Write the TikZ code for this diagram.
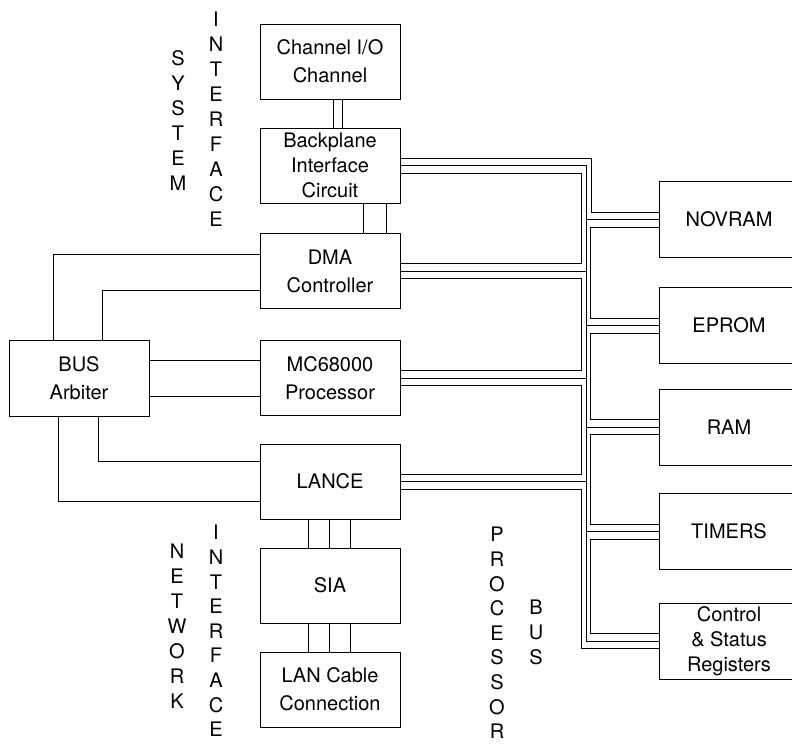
\documentclass[tikz,border=0pt]{standalone}
\usepackage{fontspec}
\setmainfont{TeX Gyre Heros}

\begin{document}
\begin{tikzpicture}[x=1bp, y=-1bp, line width=0.9bp,
    blk/.style={draw, minimum width=140bp, minimum height=75bp, inner sep=0pt, align=center, font=\fontsize{20bp}{28bp}\selectfont},
    tri/.style={font=\fontsize{20bp}{25bp}\selectfont},
    vtxt/.style={inner sep=0pt, align=center, font=\fontsize{20bp}{25bp}\selectfont}]
        \useasboundingbox (0,0) rectangle (792,744);
        \clip (0,0) rectangle (792,744);

        % system side
        \node[blk] (chan) at (330,61.5) {Channel I/O\\Channel};
        \node[blk, tri] (bpi) at (330,165.5) {Backplane\\Interface\\Circuit};
        \node[blk] (dma) at (330,271) {DMA\\Controller};
        \node[blk] (mpu) at (330,378) {MC68000\\Processor};
        \node[blk] (lance) at (330,481.5) {LANCE};
        \node[blk] (sia) at (330,585.5) {SIA};
        \node[blk] (lan) at (330,689.5) {LAN Cable\\Connection};
        \node[blk, minimum height=76bp] (arb) at (79,378) {BUS\\Arbiter};

        % memory side
        \node[blk, minimum height=76bp] (nov) at (729,219.5) {NOVRAM};
        \node[blk, minimum height=76bp] (eprom) at (729,325.5) {EPROM};
        \node[blk, minimum height=76bp] (ram) at (729,427) {RAM};
        \node[blk, minimum height=76bp] (tim) at (729,531.5) {TIMERS};
        \node[blk, tri, minimum height=76bp] (csr) at (729,641) {Control\\\& Status\\Registers};

        % labels
        \node[vtxt] (sys) at (178,121) {S\\Y\\S\\T\\E\\M};
        \node[vtxt] (sysif) at (216,119) {I\\N\\T\\E\\R\\F\\A\\C\\E};
        \node[vtxt] (net) at (177,626) {N\\E\\T\\W\\O\\R\\K};
        \node[vtxt, font=\fontsize{20bp}{24.6bp}\selectfont] (netif) at (216,631) {I\\N\\T\\E\\R\\F\\A\\C\\E};
        \node[vtxt, font=\fontsize{20bp}{24.6bp}\selectfont] (proc) at (497,633) {P\\R\\O\\C\\E\\S\\S\\O\\R};
        \node[vtxt] (bus) at (536,632) {B\\U\\S};

        % stacked links
        \draw ([xshift=3bp]chan.south) -- ([xshift=3bp]bpi.north);
        \draw ([xshift=12bp]chan.south) -- ([xshift=12bp]bpi.north);
        \draw ([xshift=33bp]bpi.south) -- ([xshift=33bp]dma.north);
        \draw ([xshift=56bp]bpi.south) -- ([xshift=56bp]dma.north);
        \draw ([xshift=-22bp]lance.south) -- ([xshift=-22bp]sia.north);
        \draw ([xshift=-1bp]lance.south) -- ([xshift=-1bp]sia.north);
        \draw ([xshift=20bp]lance.south) -- ([xshift=20bp]sia.north);
        \draw ([xshift=-22bp]sia.south) -- ([xshift=-22bp]lan.north);
        \draw ([xshift=-1bp]sia.south) -- ([xshift=-1bp]lan.north);
        \draw ([xshift=20bp]sia.south) -- ([xshift=20bp]lan.north);

        % arbiter lines
        \draw ([xshift=-26bp]arb.north) |- ([yshift=17bp]dma.west);
        \draw ([xshift=23bp]arb.north) |- ([yshift=-19bp]dma.west);
        \draw ([yshift=18bp]arb.east) -- ([yshift=18bp]mpu.west);
        \draw ([yshift=-18bp]arb.east) -- ([yshift=-18bp]mpu.west);
        \draw ([xshift=19bp]arb.south) |- ([yshift=20.5bp]lance.west);
        \draw ([xshift=-21bp]arb.south) |- ([yshift=-19.5bp]lance.west);

        % processor bus, left line
        \draw ([yshift=-7.5bp]bpi.east) -- ++(181,0) |- ([yshift=7.5bp]dma.east);
        \draw ([yshift=-7.5bp]dma.east) -- ++(181,0) |- ([yshift=7.5bp]mpu.east);
        \draw ([yshift=-7.5bp]mpu.east) -- ++(181,0) |- ([yshift=7.5bp]lance.east);
        \draw ([yshift=-7.5bp]lance.east) -- ++(181,0) |- ([yshift=-7.5bp]csr.west);

        % processor bus, middle line
        \draw (bpi.east) -- ++(186,0) |- (csr.west);
        \draw (dma.east) -- ++(186,0);
        \draw (mpu.east) -- ++(186,0);
        \draw (lance.east) -- ++(186,0);
        \draw (nov.west) -- ++(-73,0);
        \draw (eprom.west) -- ++(-73,0);
        \draw (ram.west) -- ++(-73,0);
        \draw (tim.west) -- ++(-73,0);

        % processor bus, right line
        \draw ([yshift=7.5bp]bpi.east) -- ++(191,0) |- ([yshift=7.5bp]nov.west);
        \draw ([yshift=-7.5bp]nov.west) -- ++(-68,0) |- ([yshift=7.5bp]eprom.west);
        \draw ([yshift=-7.5bp]eprom.west) -- ++(-68,0) |- ([yshift=7.5bp]ram.west);
        \draw ([yshift=-7.5bp]ram.west) -- ++(-68,0) |- ([yshift=7.5bp]tim.west);
        \draw ([yshift=-7.5bp]tim.west) -- ++(-68,0) |- ([yshift=7.5bp]csr.west);
\end{tikzpicture}
\end{document}
